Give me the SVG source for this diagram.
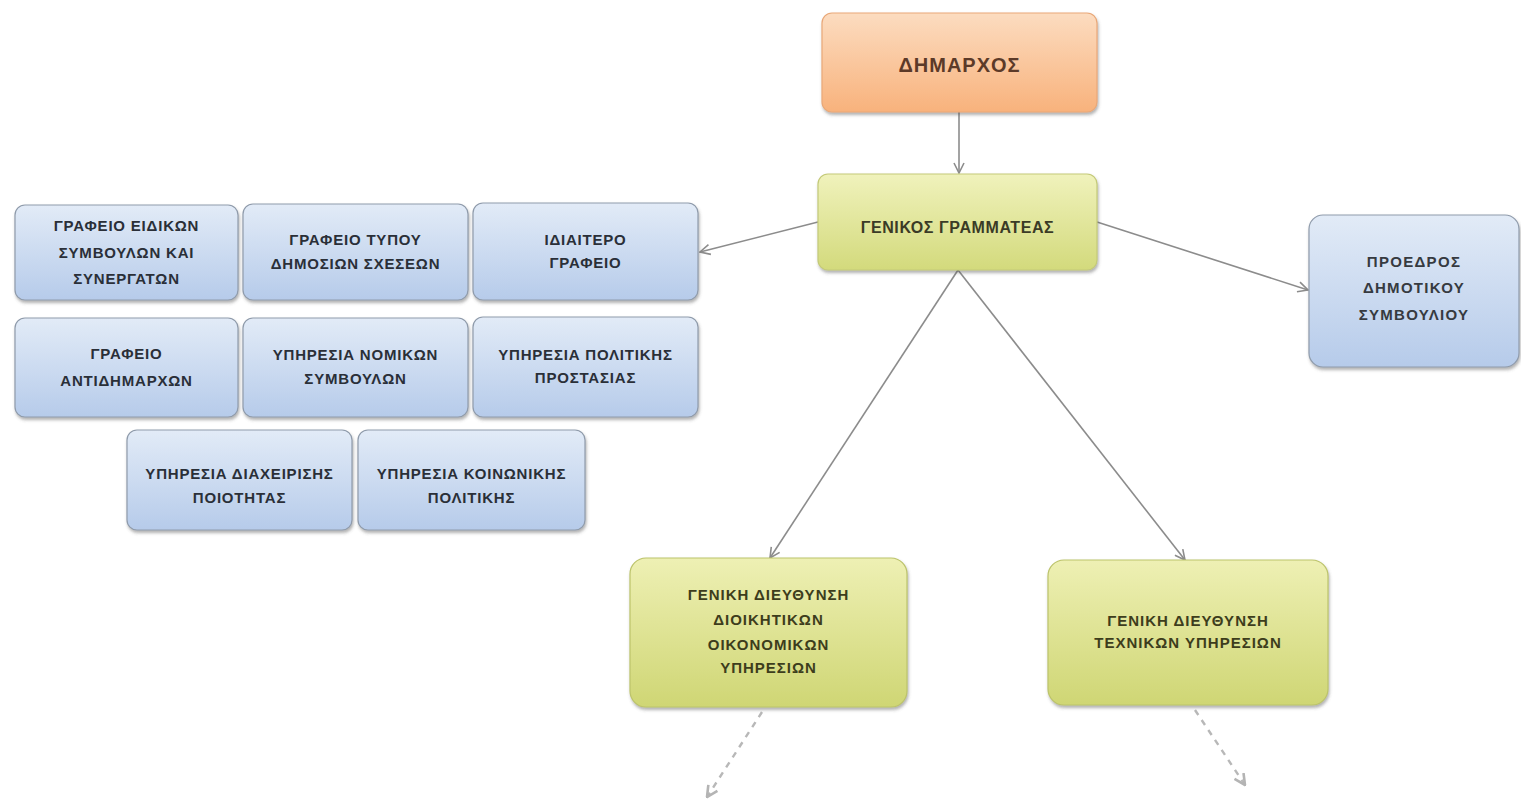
<svg xmlns="http://www.w3.org/2000/svg" width="1521" height="802" viewBox="0 0 1521 802">
  <defs>
    <linearGradient id="gOrange" x1="0" y1="0" x2="0" y2="1">
      <stop offset="0" stop-color="#fcdcc0"/>
      <stop offset="1" stop-color="#f8b27c"/>
    </linearGradient>
    <linearGradient id="gGreen" x1="0" y1="0" x2="0" y2="1">
      <stop offset="0" stop-color="#f0f2bc"/>
      <stop offset="1" stop-color="#d3da7c"/>
    </linearGradient>
    <linearGradient id="gGreen2" x1="0" y1="0" x2="0" y2="1">
      <stop offset="0" stop-color="#eef0b4"/>
      <stop offset="1" stop-color="#cfd674"/>
    </linearGradient>
    <linearGradient id="gBlue" x1="0" y1="0" x2="0" y2="1">
      <stop offset="0" stop-color="#e2ebf7"/>
      <stop offset="1" stop-color="#b6cbea"/>
    </linearGradient>
    <filter id="shadow" x="-10%" y="-10%" width="125%" height="130%">
      <feDropShadow dx="1" dy="2.5" stdDeviation="1.8" flood-color="#555" flood-opacity="0.45"/>
    </filter>
    <marker id="arrow" viewBox="0 0 12 12" refX="11" refY="6" markerWidth="12" markerHeight="12" markerUnits="userSpaceOnUse" orient="auto">
      <path d="M1,1 L11,6 L1,11" fill="none" stroke="#8c8c8c" stroke-width="1.6"/>
    </marker>
    <marker id="arrowLight" viewBox="0 0 12 12" refX="11" refY="6" markerWidth="13" markerHeight="13" markerUnits="userSpaceOnUse" orient="auto">
      <path d="M1,1 L11,6 L1,11" fill="none" stroke="#b4b4b4" stroke-width="2.4"/>
    </marker>
  </defs>
  <style>
    .box { stroke-width: 1.2; filter: url(#shadow); }
    .orange { fill: url(#gOrange); stroke: #e9a878; }
    .green { fill: url(#gGreen); stroke: #c4ca78; }
    .green2 { fill: url(#gGreen2); stroke: #bcc36a; }
    .blue { fill: url(#gBlue); stroke: #8f9bab; }
    text { font-family: "Liberation Sans", "DejaVu Sans", Arial, sans-serif; font-weight: bold; text-anchor: middle; font-size: 15px; letter-spacing: 0.8px; }
    .tb { fill: #2a2f38; }
    .to { fill: #5c3a28; font-size: 20px; letter-spacing: 1px; }
    .tg { fill: #3b3b26; font-size: 16px; letter-spacing: 0.6px; }
    .tg2 { fill: #3d3d1c; letter-spacing: 1px; }
    .tp { fill: #363a40; letter-spacing: 1.3px; }
    .conn { fill: none; stroke: #8c8c8c; stroke-width: 1.6; }
    .dash { fill: none; stroke: #b8b8b8; stroke-width: 2.4; stroke-dasharray: 6 6; }
  </style>
  <rect width="1521" height="802" fill="#ffffff"/>

  <g id="connectors">
    <line class="conn" x1="959" y1="112" x2="959" y2="173" marker-end="url(#arrow)"/>
    <line class="conn" x1="818" y1="222" x2="700" y2="252" marker-end="url(#arrow)"/>
    <line class="conn" x1="1097" y1="222" x2="1308" y2="290" marker-end="url(#arrow)"/>
    <line class="conn" x1="958" y1="270" x2="770" y2="558" marker-end="url(#arrow)"/>
    <line class="conn" x1="958" y1="270" x2="1185" y2="560" marker-end="url(#arrow)"/>
    <line class="dash" x1="762" y1="712" x2="707" y2="797" marker-end="url(#arrowLight)"/>
    <line class="dash" x1="1195" y1="710" x2="1245" y2="785" marker-end="url(#arrowLight)"/>
  </g>

  <g id="dimarxos">
    <rect class="box orange" x="822" y="13" width="275" height="99" rx="10"/>
    <text class="to" x="959.5" y="72">ΔΗΜΑΡΧΟΣ</text>
  </g>

  <g id="genikos-grammateas">
    <rect class="box green" x="818" y="174" width="279" height="96" rx="10"/>
    <text class="tg" x="957.5" y="233">ΓΕΝΙΚΟΣ ΓΡΑΜΜΑΤΕΑΣ</text>
  </g>

  <g id="proedros">
    <rect class="box blue" x="1309" y="215" width="210" height="152" rx="14"/>
    <text class="tp" x="1414" y="267">ΠΡΟΕΔΡΟΣ</text>
    <text class="tp" x="1414" y="293">ΔΗΜΟΤΙΚΟΥ</text>
    <text class="tp" x="1414" y="320">ΣΥΜΒΟΥΛΙΟΥ</text>
  </g>

  <g id="grafeio-eidikon">
    <rect class="box blue" x="15" y="205" width="223" height="95" rx="10"/>
    <text class="tb" x="126.5" y="231">ΓΡΑΦΕΙΟ ΕΙΔΙΚΩΝ</text>
    <text class="tb" x="126.5" y="258">ΣΥΜΒΟΥΛΩΝ ΚΑΙ</text>
    <text class="tb" x="126.5" y="284">ΣΥΝΕΡΓΑΤΩΝ</text>
  </g>

  <g id="grafeio-typou">
    <rect class="box blue" x="243" y="204" width="225" height="96" rx="10"/>
    <text class="tb" x="355.5" y="245">ΓΡΑΦΕΙΟ ΤΥΠΟΥ</text>
    <text class="tb" x="355.5" y="269">ΔΗΜΟΣΙΩΝ ΣΧΕΣΕΩΝ</text>
  </g>

  <g id="idiaitero-grafeio">
    <rect class="box blue" x="473" y="203" width="225" height="97" rx="10"/>
    <text class="tb" x="585.5" y="245">ΙΔΙΑΙΤΕΡΟ</text>
    <text class="tb" x="585.5" y="268">ΓΡΑΦΕΙΟ</text>
  </g>

  <g id="grafeio-antidimarxon">
    <rect class="box blue" x="15" y="318" width="223" height="99" rx="10"/>
    <text class="tb" x="126.5" y="359">ΓΡΑΦΕΙΟ</text>
    <text class="tb" x="126.5" y="386">ΑΝΤΙΔΗΜΑΡΧΩΝ</text>
  </g>

  <g id="ypiresia-nomikon">
    <rect class="box blue" x="243" y="318" width="225" height="99" rx="10"/>
    <text class="tb" x="355.5" y="360">ΥΠΗΡΕΣΙΑ ΝΟΜΙΚΩΝ</text>
    <text class="tb" x="355.5" y="384">ΣΥΜΒΟΥΛΩΝ</text>
  </g>

  <g id="ypiresia-politikis-prostasias">
    <rect class="box blue" x="473" y="317" width="225" height="100" rx="10"/>
    <text class="tb" x="585.5" y="360">ΥΠΗΡΕΣΙΑ ΠΟΛΙΤΙΚΗΣ</text>
    <text class="tb" x="585.5" y="383">ΠΡΟΣΤΑΣΙΑΣ</text>
  </g>

  <g id="ypiresia-diaxeirisis-poiotitas">
    <rect class="box blue" x="127" y="430" width="225" height="100" rx="10"/>
    <text class="tb" x="239.5" y="479">ΥΠΗΡΕΣΙΑ ΔΙΑΧΕΙΡΙΣΗΣ</text>
    <text class="tb" x="239.5" y="503">ΠΟΙΟΤΗΤΑΣ</text>
  </g>

  <g id="ypiresia-koinonikis-politikis">
    <rect class="box blue" x="358" y="430" width="227" height="100" rx="10"/>
    <text class="tb" x="471.5" y="479">ΥΠΗΡΕΣΙΑ ΚΟΙΝΩΝΙΚΗΣ</text>
    <text class="tb" x="471.5" y="503">ΠΟΛΙΤΙΚΗΣ</text>
  </g>

  <g id="gd-dioikitikon">
    <rect class="box green2" x="630" y="558" width="277" height="149" rx="16"/>
    <text class="tg2" x="768.5" y="600">ΓΕΝΙΚΗ ΔΙΕΥΘΥΝΣΗ</text>
    <text class="tg2" x="768.5" y="625">ΔΙΟΙΚΗΤΙΚΩΝ</text>
    <text class="tg2" x="768.5" y="650">ΟΙΚΟΝΟΜΙΚΩΝ</text>
    <text class="tg2" x="768.5" y="673">ΥΠΗΡΕΣΙΩΝ</text>
  </g>

  <g id="gd-texnikon">
    <rect class="box green2" x="1048" y="560" width="280" height="145" rx="16"/>
    <text class="tg2" x="1188" y="626">ΓΕΝΙΚΗ ΔΙΕΥΘΥΝΣΗ</text>
    <text class="tg2" x="1188" y="648">ΤΕΧΝΙΚΩΝ ΥΠΗΡΕΣΙΩΝ</text>
  </g>
</svg>
